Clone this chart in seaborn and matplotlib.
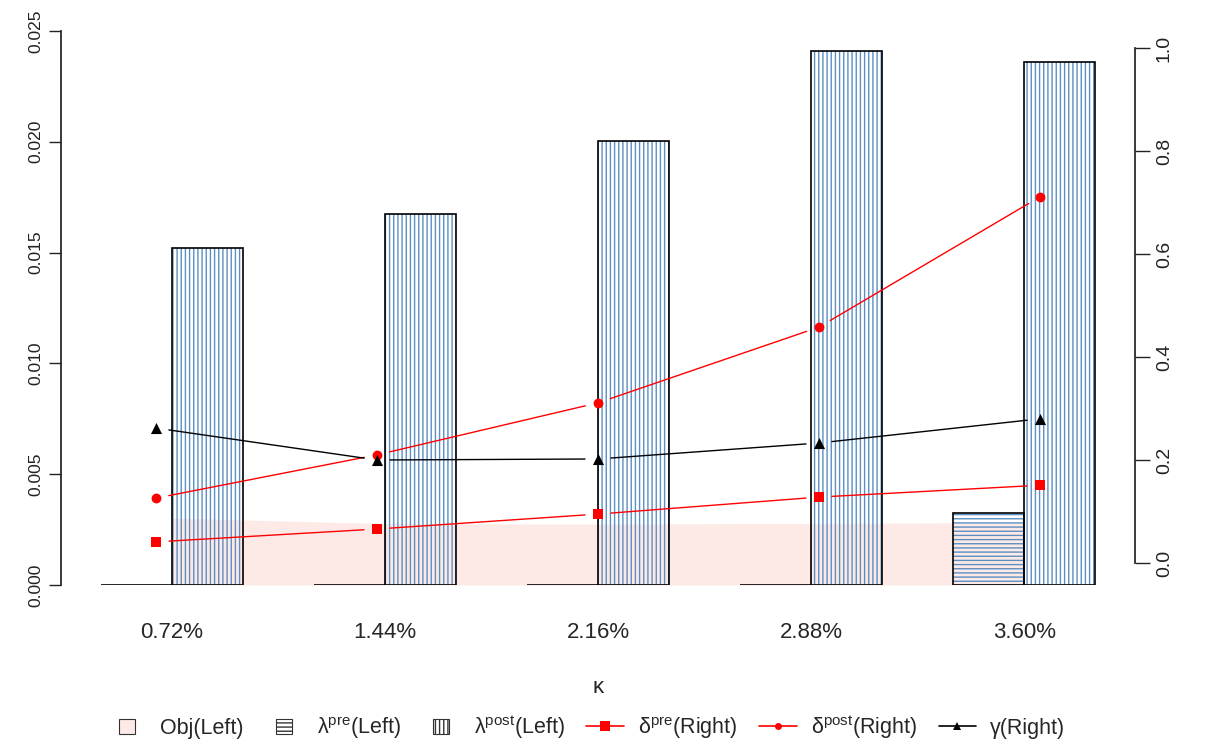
import numpy as np
import pandas as pd
import seaborn as sns
from matplotlib import pyplot as plt
from matplotlib.patches import Patch, Rectangle
from matplotlib.lines import Line2D
from matplotlib.legend_handler import HandlerPatch

# values
kappa = ["0.72%", "1.44%", "2.16%", "2.88%", "3.60%"]
obj = [0.00302, 0.00277, 0.00275, 0.00278, 0.00281]
lambda_pre = [0.0, 0.0, 0.0, 0.0, 0.00325]
lambda_post = [0.01522, 0.01674, 0.02004, 0.02410, 0.02360]
delta_pre = [0.041, 0.066, 0.095, 0.128, 0.151]
delta_post = [0.126, 0.210, 0.311, 0.458, 0.711]
gamma = [0.262, 0.200, 0.202, 0.233, 0.280]

sns.set_theme(style="ticks")
plt.rcParams['font.family'] = ['Liberation Sans', 'DejaVu Sans']
plt.rcParams['mathtext.fontset'] = 'custom'
plt.rcParams['mathtext.rm'] = 'Liberation Sans'
plt.rcParams['mathtext.it'] = 'Liberation Sans:italic'
plt.rcParams['hatch.linewidth'] = 1.0
plt.rcParams['hatch.color'] = '#5B8FC4'

hatch_col = '#5B8FC4'
pink = '#FDEAE6'
axis_col = '#222222'


def gapped_line(ax, x, y, gap_px, **kw):
    # R type="b": segments stop short of each point
    pts = ax.transData.transform(np.column_stack([x, y]))
    inv = ax.transData.inverted()
    for p, q in zip(pts[:-1], pts[1:]):
        d = q - p
        u = d / np.hypot(*d)
        seg = inv.transform(np.array([p + u * gap_px, q - u * gap_px]))
        ax.plot(seg[:, 0], seg[:, 1], **kw)


class SquareHandler(HandlerPatch):
    # small square box like R legend fill
    def create_artists(self, legend, orig_handle, xdescent, ydescent,
                       width, height, fontsize, trans):
        side = 0.72 * fontsize
        p = Rectangle((width / 2 - side / 2 - xdescent, height / 2 - side / 2 - ydescent),
                      side, side)
        self.update_prop(p, orig_handle, legend)
        p.set_transform(trans)
        return [p]


fig = plt.figure(figsize=(12.05, 7.46), dpi=100)
W, H = 1205, 746
rect = [61 / W, 1 - 585 / H, (1135 - 61) / W, (585 - 31) / H]
ax = fig.add_axes(rect)

# bar layout as in R barplot(beside=TRUE, space=c(0,1))
n = len(kappa)
left_pre = np.arange(n) * 3 + 1
left_post = left_pre + 1
centers = left_pre + 1

ax.fill_between(centers, 0, obj, color=pink, linewidth=0, zorder=1)
ax.bar(left_pre, lambda_pre, width=1, align='edge', facecolor='none',
       edgecolor=hatch_col, hatch='----', linewidth=0, zorder=2)
ax.bar(left_pre, lambda_pre, width=1, align='edge', facecolor='none',
       edgecolor='black', linewidth=1.2, zorder=3)
ax.bar(left_post, lambda_post, width=1, align='edge', facecolor='none',
       edgecolor=hatch_col, hatch='||||', linewidth=0, zorder=2)
ax.bar(left_post, lambda_post, width=1, align='edge', facecolor='none',
       edgecolor='black', linewidth=1.2, zorder=3)

ax.set_xlim(0.44, 15.56)
ax.set_ylim(0, 0.025)
ax.set_xticks(centers)
ax.set_xticklabels(kappa, fontsize=16)
ax.tick_params(axis='x', length=0, pad=27)
yt = np.arange(0, 0.0251, 0.005)
ax.set_yticks(yt)
ax.set_yticklabels(["%.3f" % v for v in yt], fontsize=12.5)
ax.tick_params(axis='y', length=9, width=1, colors=axis_col, pad=4, labelrotation=90)
for t in ax.get_yticklabels():
    t.set_verticalalignment('center')
ax.set_xlabel("κ", fontsize=16, labelpad=24)
for s in ['top', 'right', 'bottom']:
    ax.spines[s].set_visible(False)
ax.spines['left'].set_bounds(0, 0.025)
ax.spines['left'].set_color(axis_col)

# lines on the right axis, own x scale as the R points()
ax2 = fig.add_axes(rect, facecolor='none')
xs = np.arange(1, n + 1)
ax2.set_xlim(0.57, 5.43)
ax2.set_ylim(-22 / 515, (563 - 31) / 515)
pts = pd.DataFrame({'x': xs, 'dpre': delta_pre, 'dpost': delta_post, 'g': gamma})
sns.scatterplot(data=pts, x='x', y='dpre', ax=ax2, color='red', marker='s',
                s=56, linewidth=0, zorder=5)
sns.scatterplot(data=pts, x='x', y='dpost', ax=ax2, color='red', marker='o',
                s=50, linewidth=0, zorder=5)
sns.scatterplot(data=pts, x='x', y='g', ax=ax2, color='black', marker='^',
                s=64, linewidth=0, zorder=5)
ax2.set_xlim(0.57, 5.43)
ax2.set_ylim(-22 / 515, (563 - 31) / 515)
gapped_line(ax2, xs, delta_pre, 13, color='red', lw=1, zorder=4)
gapped_line(ax2, xs, delta_post, 13, color='red', lw=1, zorder=4)
gapped_line(ax2, xs, gamma, 13, color='black', lw=1, zorder=4)
ax2.set_xlabel("")
ax2.set_ylabel("")
ax2.set_xticks([])
ax2.yaxis.tick_right()
rt = np.arange(0, 1.01, 0.2)
ax2.set_yticks(rt)
ax2.set_yticklabels(["%.1f" % v for v in rt], fontsize=14)
ax2.tick_params(axis='y', length=11, width=1, colors=axis_col, pad=4, labelrotation=90)
for t in ax2.get_yticklabels():
    t.set_verticalalignment('center')
for s in ['top', 'left', 'bottom']:
    ax2.spines[s].set_visible(False)
ax2.spines['right'].set_bounds(0, 1)
ax2.spines['right'].set_color(axis_col)

handles = [
    Patch(facecolor=pink, edgecolor='#333333', linewidth=0.8),
    Patch(facecolor='white', edgecolor='#333333', hatch='----', linewidth=0.8),
    Patch(facecolor='white', edgecolor='#333333', hatch='||||', linewidth=0.8),
    Line2D([], [], color='red', marker='s', markersize=7, markeredgewidth=0, lw=1.2),
    Line2D([], [], color='red', marker='o', markersize=5, markeredgewidth=0, lw=1.2),
    Line2D([], [], color='black', marker='^', markersize=6, markeredgewidth=0, lw=1.2),
]
labels = ["Obj(Left)", r"λ$^{\rm pre}$(Left)", r"λ$^{\rm post}$(Left)",
          r"δ$^{\rm pre}$(Right)", r"δ$^{\rm post}$(Right)", r"γ(Right)"]
fig.legend(handles, labels, loc='center', bbox_to_anchor=(0.487, 1 - 727 / H),
           ncol=6, frameon=False, fontsize=15.5, handlelength=1.75,
           handleheight=0.8, columnspacing=1.0, handletextpad=0.65,
           handler_map={Patch: SquareHandler()})

fig.savefig("out.png", dpi=100)
